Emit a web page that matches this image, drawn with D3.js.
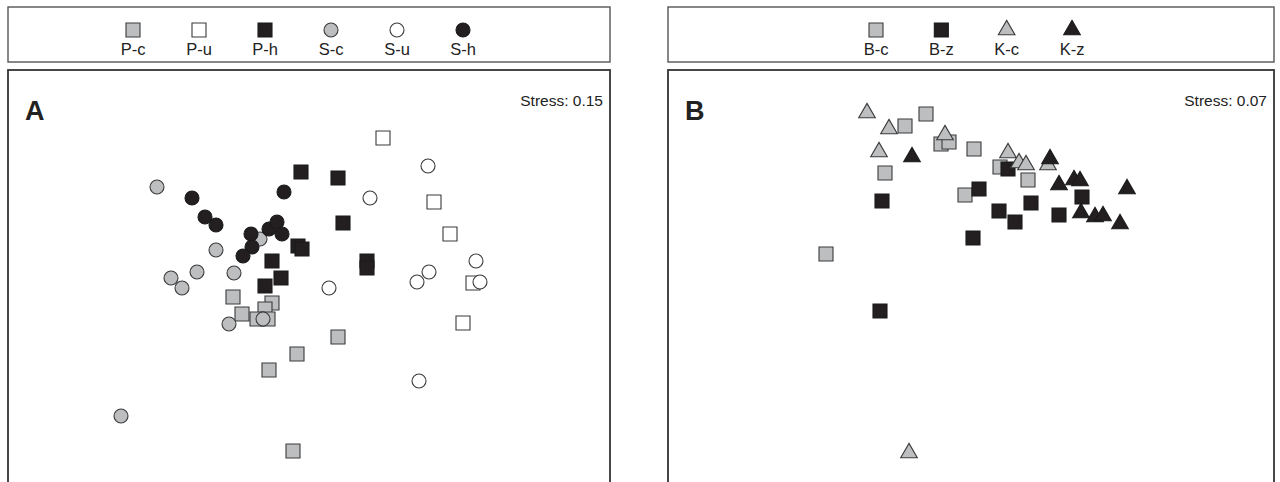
<!DOCTYPE html>
<html><head><meta charset="utf-8">
<script src="https://cdn.jsdelivr.net/npm/d3@7/dist/d3.min.js"></script>
<style>body{margin:0;background:#fff}svg{display:block}text{font-family:"Liberation Sans",Arial,sans-serif}</style>
</head><body><svg id="c" width="1280" height="482"></svg>
<script>
// Panel A categories
const catsA = ["P-c","P-u","P-h","S-c","S-u","S-h"];
const pcX = [-0.76,-0.37,-0.67,-0.44,-0.52,-0.41,0.29,-0.12,-0.40,-0.16];
const pcY = [-0.21,-0.27,-0.38,-0.33,-0.43,-0.43,-0.61,-0.78,-0.94,-1.75];
const puX = [0.74,1.25,1.41,1.64,1.54];
const puY = [1.38,0.74,0.42,-0.07,-0.47];
const phX = [-0.08,0.29,0.34,-0.11,-0.07,-0.37,-0.28,-0.44,0.58,0.58];
const phY = [1.04,0.98,0.53,0.30,0.27,0.15,-0.02,-0.10,0.15,0.08];
const scX = [-1.52,-0.93,-0.49,-1.12,-1.38,-1.27,-0.75,-0.46,-0.80,-1.88];
const scY = [0.89,0.26,0.37,0.04,-0.02,-0.12,0.03,-0.43,-0.48,-1.40];
const suX = [1.19,0.61,0.20,1.08,1.20,1.67,1.71,1.10];
const suY = [1.10,0.78,-0.12,-0.06,0.04,0.15,-0.06,-1.05];
const shX = [-1.17,-1.04,-0.93,-0.25,-0.58,-0.40,-0.32,-0.27,-0.57,-0.66];
const shY = [0.78,0.59,0.51,0.84,0.42,0.47,0.54,0.42,0.29,0.20];
const stressA = "Stress: 0.15";
// Panel B categories
const catsB = ["B-c","B-z","K-c","K-z"];
const bcX = [-0.45,-0.66,-0.30,-0.22,0.03,-0.86,-0.06,0.29,0.57,-1.45];
const bcY = [1.62,1.50,1.32,1.34,1.27,1.03,0.81,1.09,0.96,0.22];
const bzX = [-0.89,0.08,0.02,0.37,0.28,0.44,0.60,1.11,0.88,-0.91];
const bzY = [0.75,0.87,0.38,1.07,0.65,0.54,0.73,0.79,0.61,-0.35];
const kcX = [-1.04,-0.82,-0.26,-0.92,0.37,0.48,0.55,0.77,-0.62];
const kcY = [1.63,1.47,1.41,1.24,1.23,1.13,1.11,1.11,-1.77];
const kzX = [-0.59,0.79,0.88,1.03,1.09,1.10,1.24,1.32,1.49,1.56];
const kzY = [1.19,1.17,0.91,0.96,0.95,0.63,0.59,0.60,0.52,0.87];
const stressB = "Stress: 0.07";

const GRAY="#bcbec0", BLACK="#231f20", WHITE="#ffffff", STROKE="#3a3a3a";
const styles = {
  "P-c":{shape:"sq",fill:GRAY},"P-u":{shape:"sq",fill:WHITE},"P-h":{shape:"sq",fill:BLACK},
  "S-c":{shape:"ci",fill:GRAY},"S-u":{shape:"ci",fill:WHITE},"S-h":{shape:"ci",fill:BLACK},
  "B-c":{shape:"sq",fill:GRAY},"B-z":{shape:"sq",fill:BLACK},
  "K-c":{shape:"tr",fill:GRAY},"K-z":{shape:"tr",fill:BLACK}
};
const dataA = {"P-c":[pcX,pcY],"P-u":[puX,puY],"P-h":[phX,phY],"S-c":[scX,scY],"S-u":[suX,suY],"S-h":[shX,shY]};
const dataB = {"B-c":[bcX,bcY],"B-z":[bzX,bzY],"K-c":[kcX,kcY],"K-z":[kzX,kzY]};

const svg = d3.select("#c");
const symSq = d3.symbol().type(d3.symbolSquare).size(196);
const symCi = d3.symbol().type(d3.symbolCircle).size(Math.PI*49);
const symTr = d3.symbol().type(d3.symbolTriangle).size(120);
function pathFor(shape){return shape==="sq"?symSq():shape==="ci"?symCi():symTr();}
function drawMark(g, cat, x, y){
  const s = styles[cat];
  g.append("path").attr("d", pathFor(s.shape))
   .attr("transform", `translate(${x},${y})`)
   .attr("fill", s.fill)
   .attr("stroke", s.fill===BLACK?"#1a1a1a":STROKE)
   .attr("stroke-width", 1.1);
}

function panel(cfg){
  const {left,right,cats,data,label,stress,legL,legR,xDom} = cfg;
  const legTop=7, legBot=62, plotTop=70, plotBot=482;
  // legend box
  svg.append("rect").attr("x",left).attr("y",legTop).attr("width",right-left).attr("height",legBot-legTop)
     .attr("fill","none").attr("stroke","#555").attr("stroke-width",1.4);
  const lx = d3.scalePoint().domain(cats).range([legL,legR]);
  const lg = svg.append("g");
  cats.forEach(c=>{
    drawMark(lg, c, lx(c), 30);
    lg.append("text").attr("x",lx(c)).attr("y",55).attr("text-anchor","middle")
      .attr("font-size",16.5).attr("fill","#222").text(c);
  });
  // plot box
  svg.append("rect").attr("x",left).attr("y",plotTop).attr("width",right-left).attr("height",plotBot-plotTop+20)
     .attr("fill","none").attr("stroke","#333").attr("stroke-width",1.8);
  svg.append("text").attr("x",left+17).attr("y",120).attr("font-size",27).attr("font-weight","bold")
     .attr("fill","#222").text(label);
  svg.append("text").attr("x",right-7).attr("y",106).attr("text-anchor","end").attr("font-size",15.5)
     .attr("fill","#222").text(stress);
  const x = d3.scaleLinear().domain(xDom).range([left,right]);
  const y = d3.scaleLinear().domain([-2.06,2.06]).range([plotBot,plotTop]);
  const g = svg.append("g");
  cats.forEach(c=>{
    const [xs,ys]=data[c];
    xs.forEach((v,i)=>drawMark(g,c,x(v),y(ys[i])));
  });
}
panel({left:8,right:610,cats:catsA,data:dataA,label:"A",stress:stressA,legL:133,legR:463,xDom:[-3.01,3.01]});
panel({left:668,right:1274,cats:catsB,data:dataB,label:"B",stress:stressB,legL:876,legR:1072,xDom:[-3.03,3.03]});
</script></body></html>
